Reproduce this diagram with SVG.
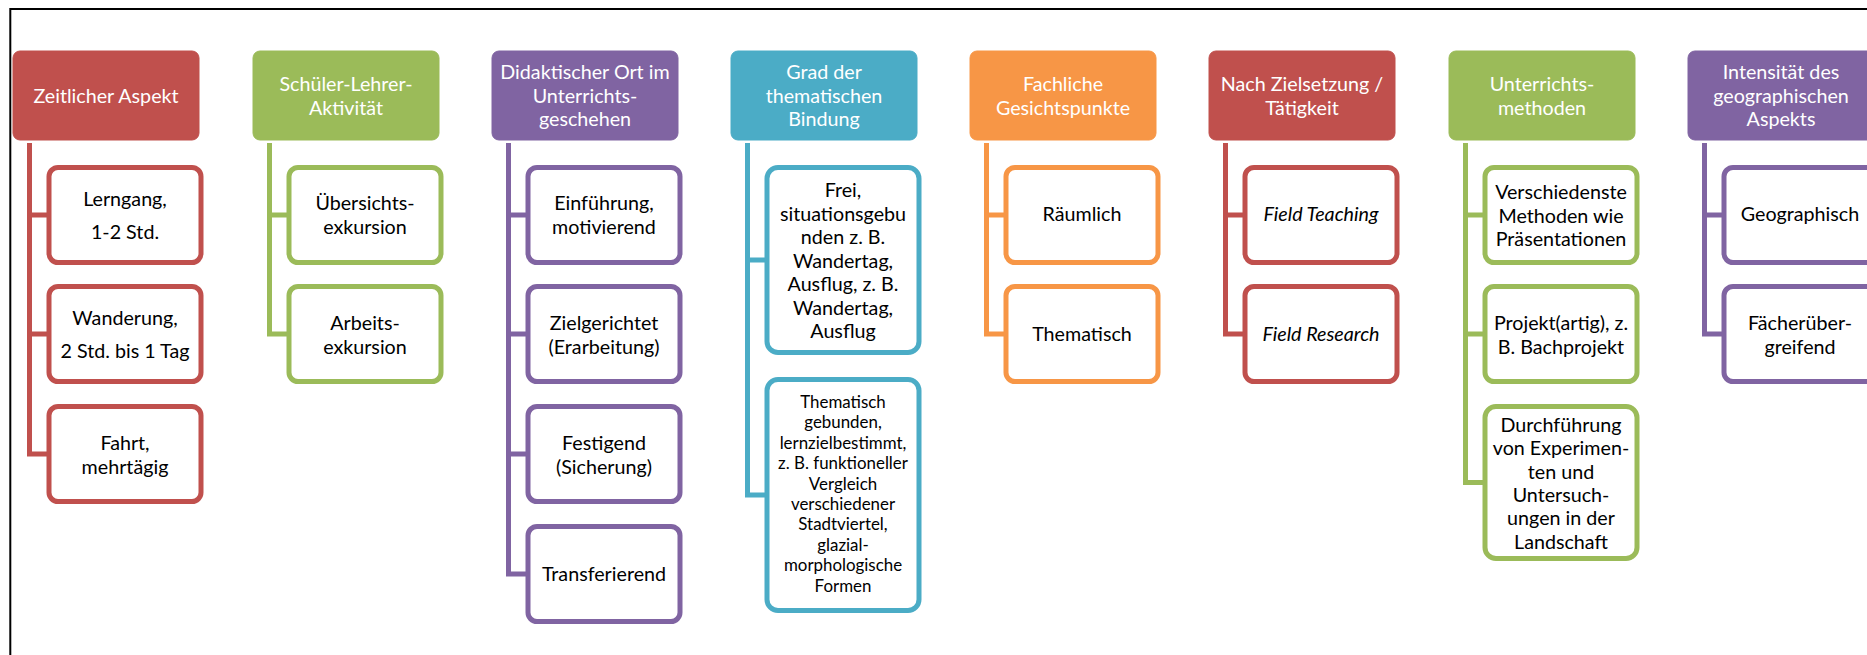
<svg xmlns="http://www.w3.org/2000/svg" width="1867" height="655" viewBox="0 0 1867 655">
<style>
text{font-family:Lato,"Liberation Sans",sans-serif;text-anchor:middle}
.h{font-size:19.7px;fill:#fff}
.c{font-size:19.7px;fill:#000}
.s{font-size:16.9px;fill:#000}
.i{font-style:italic}
.hr{stroke-width:1}
.ch{fill:#fff;stroke-width:5}
.red{fill:#C0504D;stroke:#C0504D}
.grn{fill:#9BBB59;stroke:#9BBB59}
.pur{fill:#8064A2;stroke:#8064A2}
.blu{fill:#4BACC6;stroke:#4BACC6}
.org{fill:#F79646;stroke:#F79646}
.ch.red,.ch.grn,.ch.pur,.ch.blu,.ch.org{fill:#fff}
.con path{fill:none;stroke-width:5}
</style>
<rect width="1867" height="655" fill="#fff"/>
<path d="M10.3,660 V9 H1870" fill="none" stroke="#000" stroke-width="2"/>
<g class="con">
<path stroke="#C0504D" d="M29.5,143 V456.5 M27,215 H49 M27,334 H49 M27,454 H49"/>
<path stroke="#9BBB59" d="M269.5,143 V336.5 M267,215 H289 M267,334 H289"/>
<path stroke="#8064A2" d="M508.5,143 V576.5 M506,215 H528 M506,334 H528 M506,454 H528 M506,574 H528"/>
<path stroke="#4BACC6" d="M747.5,143 V497.5 M745,260 H767 M745,495 H767"/>
<path stroke="#F79646" d="M986.5,143 V336.5 M984,215 H1006 M984,334 H1006"/>
<path stroke="#C0504D" d="M1225.5,143 V336.5 M1223,215 H1245 M1223,334 H1245"/>
<path stroke="#9BBB59" d="M1465.5,143 V485 M1463,215 H1485 M1463,334 H1485 M1463,482.5 H1485"/>
<path stroke="#8064A2" d="M1704.5,143 V336.5 M1702,215 H1724 M1702,334 H1724"/>
</g>
<g id="h1"><rect class="hr red" x="13" y="51" width="186" height="89" rx="7"/><text class="h" x="106" y="103">Zeitlicher Aspekt</text></g>
<g id="c1a"><rect class="ch red" x="49" y="167.5" width="152" height="95" rx="9"/><text class="c" x="125" y="206">Lerngang,</text><text class="c" x="125" y="239">1-2 Std.</text></g>
<g id="c1b"><rect class="ch red" x="49" y="286.5" width="152" height="95" rx="9"/><text class="c" x="125" y="325">Wanderung,</text><text class="c" x="125" y="358">2 Std. bis 1 Tag</text></g>
<g id="c1c"><rect class="ch red" x="49" y="406.5" width="152" height="95" rx="9"/><text class="c" x="125" y="450">Fahrt,</text><text class="c" x="125" y="474">mehrtägig</text></g>

<g id="h2"><rect class="hr grn" x="253" y="51" width="186" height="89" rx="7"/><text class="h" x="346" y="90.5">Schüler-Lehrer-</text><text class="h" x="346" y="114.5">Aktivität</text></g>
<g id="c2a"><rect class="ch grn" x="289" y="167.5" width="152" height="95" rx="9"/><text class="c" x="365" y="210">Übersichts-</text><text class="c" x="365" y="234">exkursion</text></g>
<g id="c2b"><rect class="ch grn" x="289" y="286.5" width="152" height="95" rx="9"/><text class="c" x="365" y="330">Arbeits-</text><text class="c" x="365" y="354">exkursion</text></g>

<g id="h3"><rect class="hr pur" x="492" y="51" width="186" height="89" rx="7"/><text class="h" x="585" y="79">Didaktischer Ort im</text><text class="h" x="585" y="102.5">Unterrichts-</text><text class="h" x="585" y="126">geschehen</text></g>
<g id="c3a"><rect class="ch pur" x="528" y="167.5" width="152" height="95" rx="9"/><text class="c" x="604" y="210">Einführung,</text><text class="c" x="604" y="234">motivierend</text></g>
<g id="c3b"><rect class="ch pur" x="528" y="286.5" width="152" height="95" rx="9"/><text class="c" x="604" y="330">Zielgerichtet</text><text class="c" x="604" y="354">(Erarbeitung)</text></g>
<g id="c3c"><rect class="ch pur" x="528" y="406.5" width="152" height="95" rx="9"/><text class="c" x="604" y="450">Festigend</text><text class="c" x="604" y="474">(Sicherung)</text></g>
<g id="c3d"><rect class="ch pur" x="528" y="526.5" width="152" height="95" rx="9"/><text class="c" x="604" y="580.5">Transferierend</text></g>

<g id="h4"><rect class="hr blu" x="731" y="51" width="186" height="89" rx="7"/><text class="h" x="824" y="79">Grad der</text><text class="h" x="824" y="102.5">thematischen</text><text class="h" x="824" y="126">Bindung</text></g>
<g id="c4a"><rect class="ch blu" x="767" y="167.5" width="152" height="185" rx="11"/><text class="c" x="843" y="197">Frei,<tspan x="843" dy="23.5">situationsgebu</tspan><tspan x="843" dy="23.5">nden z. B.</tspan><tspan x="843" dy="23.5">Wandertag,</tspan><tspan x="843" dy="23.5">Ausflug, z. B.</tspan><tspan x="843" dy="23.5">Wandertag,</tspan><tspan x="843" dy="23.5">Ausflug</tspan></text></g>
<g id="c4b"><rect class="ch blu" x="767" y="379.5" width="152" height="231" rx="11"/><text class="s" x="843" y="408">Thematisch<tspan x="843" dy="20.4">gebunden,</tspan><tspan x="843" dy="20.4">lernzielbestimmt,</tspan><tspan x="843" dy="20.4">z. B. funktioneller</tspan><tspan x="843" dy="20.4">Vergleich</tspan><tspan x="843" dy="20.4">verschiedener</tspan><tspan x="843" dy="20.4">Stadtviertel,</tspan><tspan x="843" dy="20.4">glazial-</tspan><tspan x="843" dy="20.4">morphologische</tspan><tspan x="843" dy="20.4">Formen</tspan></text></g>

<g id="h5"><rect class="hr org" x="970" y="51" width="186" height="89" rx="7"/><text class="h" x="1063" y="90.5">Fachliche</text><text class="h" x="1063" y="114.5">Gesichtspunkte</text></g>
<g id="c5a"><rect class="ch org" x="1006" y="167.5" width="152" height="95" rx="9"/><text class="c" x="1082" y="221">Räumlich</text></g>
<g id="c5b"><rect class="ch org" x="1006" y="286.5" width="152" height="95" rx="9"/><text class="c" x="1082" y="341">Thematisch</text></g>

<g id="h6"><rect class="hr red" x="1209" y="51" width="186" height="89" rx="7"/><text class="h" x="1302" y="90.5">Nach Zielsetzung /</text><text class="h" x="1302" y="114.5">Tätigkeit</text></g>
<g id="c6a"><rect class="ch red" x="1245" y="167.5" width="152" height="95" rx="9"/><text class="c i" x="1321" y="221">Field Teaching</text></g>
<g id="c6b"><rect class="ch red" x="1245" y="286.5" width="152" height="95" rx="9"/><text class="c i" x="1321" y="341">Field Research</text></g>

<g id="h7"><rect class="hr grn" x="1449" y="51" width="186" height="89" rx="7"/><text class="h" x="1542" y="90.5">Unterrichts-</text><text class="h" x="1542" y="114.5">methoden</text></g>
<g id="c7a"><rect class="ch grn" x="1485" y="167.5" width="152" height="95" rx="9"/><text class="c" x="1561" y="199">Verschiedenste<tspan x="1561" dy="23.5">Methoden wie</tspan><tspan x="1561" dy="23.5">Präsentationen</tspan></text></g>
<g id="c7b"><rect class="ch grn" x="1485" y="286.5" width="152" height="95" rx="9"/><text class="c" x="1561" y="330">Projekt(artig), z.</text><text class="c" x="1561" y="354">B. Bachprojekt</text></g>
<g id="c7c"><rect class="ch grn" x="1485" y="406.5" width="152" height="152" rx="11"/><text class="c" x="1561" y="432">Durchführung<tspan x="1561" dy="23.3">von Experimen-</tspan><tspan x="1561" dy="23.3">ten und</tspan><tspan x="1561" dy="23.3">Untersuch-</tspan><tspan x="1561" dy="23.3">ungen in der</tspan><tspan x="1561" dy="23.3">Landschaft</tspan></text></g>

<g id="h8"><rect class="hr pur" x="1688" y="51" width="186" height="89" rx="7"/><text class="h" x="1781" y="79">Intensität des</text><text class="h" x="1781" y="102.5">geographischen</text><text class="h" x="1781" y="126">Aspekts</text></g>
<g id="c8a"><rect class="ch pur" x="1724" y="167.5" width="152" height="95" rx="9"/><text class="c" x="1800" y="221">Geographisch</text></g>
<g id="c8b"><rect class="ch pur" x="1724" y="286.5" width="152" height="95" rx="9"/><text class="c" x="1800" y="330">Fächerüber-</text><text class="c" x="1800" y="354">greifend</text></g>
</svg>
